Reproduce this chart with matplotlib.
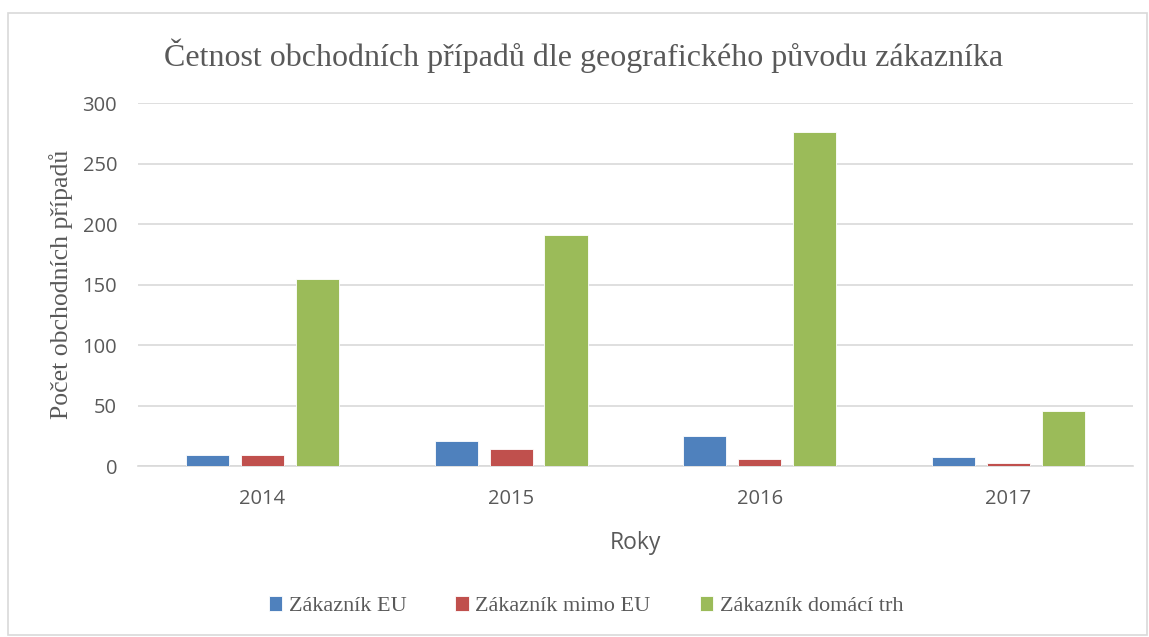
import numpy as np
import matplotlib as mpl
mpl.use('Agg')
import matplotlib.pyplot as plt
from matplotlib.patches import Rectangle

# data
years = ['2014', '2015', '2016', '2017']
series_names = ['Zákazník EU', 'Zákazník mimo EU', 'Zákazník domácí trh']
eu = [9, 21, 25, 8]
mimo_eu = [9, 14, 6, 3]
domaci = [155, 191, 276, 46]
colors = ['#4f81bd', '#c0504d', '#9bbb59']

serif = 'Liberation Serif'
sans = 'Open Sans'
txt = '#595959'

fig = plt.figure(figsize=(11.49, 6.37), dpi=100)
# light chart-area border
fig.patches.append(Rectangle((0.007, 0.003), 0.991, 0.976, transform=fig.transFigure,
                             fill=False, edgecolor='#d9d9d9', linewidth=1.2))
ax = fig.add_axes([0.120, 0.268, 0.866, 0.570])

x = np.arange(len(years))
width = 0.173
step = 0.221
for i, (vals, name) in enumerate(zip([eu, mimo_eu, domaci], series_names)):
    ax.bar(x + (i - 1) * step, vals, width, color=colors[i], label=name,
           edgecolor='white', linewidth=0.6, zorder=3)

ax.set_xlim(-0.5, 3.5)
ax.set_ylim(0, 300)
ax.set_yticks(range(0, 301, 50))
ax.set_xticks(x)
ax.set_xticklabels(years)
ax.grid(axis='y', color='#d9d9d9', linewidth=1.2, zorder=0)
for s in ['top', 'right', 'left']:
    ax.spines[s].set_visible(False)
ax.spines['bottom'].set_color('#d9d9d9')
ax.spines['bottom'].set_linewidth(1.2)
ax.tick_params(axis='both', length=0, labelsize=14.5, colors=txt)
for lab in ax.get_xticklabels() + ax.get_yticklabels():
    lab.set_fontfamily(sans)
ax.tick_params(axis='y', pad=15)
ax.tick_params(axis='x', pad=16)

ax.set_xlabel('Roky', fontfamily=sans, fontsize=16.5, color=txt, labelpad=16)
ax.set_ylabel('Počet obchodních případů', fontfamily=serif, fontsize=18.5, color=txt, labelpad=7)
fig.text(0.508, 0.912, 'Četnost obchodních případů dle geografického původu zákazníka',
         ha='center', va='center', fontfamily=serif, fontsize=23, color=txt)

leg = fig.legend(loc='center', bbox_to_anchor=(0.51, 0.048), ncol=3, frameon=False,
                 prop={'family': serif, 'size': 16}, handlelength=0.6, handleheight=0.6,
                 handletextpad=0.3, columnspacing=2.2)
for t in leg.get_texts():
    t.set_color(txt)

plt.savefig('out.png', dpi=100)
